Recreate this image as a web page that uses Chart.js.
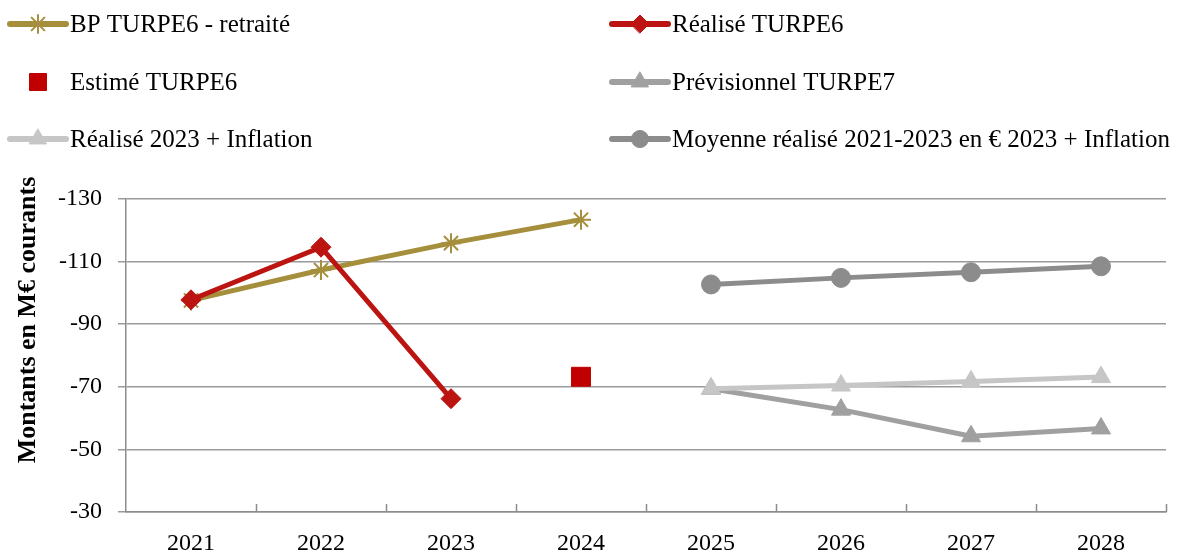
<!DOCTYPE html>
<html>
<head>
<meta charset="utf-8">
<script src="https://cdn.jsdelivr.net/npm/chart.js"></script>
<style>
  body { margin: 0; background: #fff; }
  canvas { display: block; }
</style>
</head>
<body>
<canvas id="turpeChart" width="1185" height="554"></canvas>
<script>
const years = ['2021', '2022', '2023', '2024', '2025', '2026', '2027', '2028'];
const bpTurpe6 = [-97.6, -107.3, -115.9, -123.4, null, null, null, null];
const realiseTurpe6 = [-97.8, -114.6, -66.2, null, null, null, null, null];
const estimeTurpe6 = [null, null, null, -73.2, null, null, null, null];
const previsionnelTurpe7 = [null, null, null, null, -69.4, -62.7, -54.2, -56.7];
const realise2023Inflation = [null, null, null, null, -69.4, -70.4, -71.7, -73.1];
const moyenneInflation = [null, null, null, null, -102.7, -104.8, -106.6, -108.5];

const FONT = "'Liberation Serif', 'DejaVu Serif', serif";
const Y_TITLE = 'Montants en M€ courants';

function lineSet(label, data, color, style, radius, order) {
    return {
        label: label,
        data: data,
        borderColor: color,
        backgroundColor: color,
        borderWidth: 5,
        pointStyle: style,
        pointRadius: radius,
        pointHoverRadius: radius,
        pointBackgroundColor: color,
        pointBorderColor: color,
        pointBorderWidth: style === 'star' ? 2 : 1,
        spanGaps: false,
        order: order
    };
}

const datasets = [
    lineSet('BP TURPE6 - retraité', bpTurpe6, '#A58F3C', 'star', 10, 2),
    lineSet('Réalisé TURPE6', realiseTurpe6, '#BB1411', 'rectRot', 10, 1),
    Object.assign(lineSet('Estimé TURPE6', estimeTurpe6, '#C00000', 'rect', 13.4, 1), { showLine: false }),
    lineSet('Prévisionnel TURPE7', previsionnelTurpe7, '#A0A0A0', 'triangle', 11, 4),
    lineSet('Réalisé 2023 + Inflation', realise2023Inflation, '#C6C6C6', 'triangle', 11, 3),
    lineSet('Moyenne réalisé 2021-2023 en € 2023 + Inflation', moyenneInflation, '#8C8C8C', 'circle', 9.5, 3)
];

// legend drawn in two columns, like the original
const legendPlugin = {
    id: 'twoColLegend',
    afterDraw(chart) {
        const ctx = chart.ctx;
        const cols = [10, 612];
        const rows = [24, 82, 139];
        chart.data.datasets.forEach((ds, i) => {
            const x = cols[i % 2];
            const y = rows[Math.floor(i / 2)];
            ctx.save();
            if (ds.showLine !== false) {
                ctx.strokeStyle = ds.borderColor;
                ctx.lineWidth = 6;
                ctx.lineCap = 'round';
                ctx.beginPath();
                ctx.moveTo(x, y);
                ctx.lineTo(x + 56, y);
                ctx.stroke();
            }
            ctx.fillStyle = ds.pointBackgroundColor;
            ctx.strokeStyle = ds.pointBorderColor;
            ctx.lineWidth = ds.pointBorderWidth;
            Chart.helpers.drawPoint(ctx, {
                pointStyle: ds.pointStyle,
                radius: ds.pointStyle === 'rect' ? 12 : ds.pointRadius * 0.9,
                rotation: 0,
                borderWidth: ds.pointBorderWidth
            }, x + 28, y);
            ctx.fillStyle = '#000';
            ctx.font = '25px ' + FONT;
            ctx.textBaseline = 'middle';
            ctx.textAlign = 'left';
            ctx.fillText(ds.label, x + 60, y + 1);
            ctx.restore();
        });
        // y axis title, centred a little above the plot middle as in the original
        ctx.save();
        ctx.translate(28, 320);
        ctx.rotate(-Math.PI / 2);
        ctx.fillStyle = '#000';
        ctx.font = 'bold 26px ' + FONT;
        ctx.textAlign = 'center';
        ctx.textBaseline = 'middle';
        ctx.fillText(Y_TITLE, 0, 0);
        ctx.restore();
    }
};

// small tick marks pointing up from the x axis, between categories
const innerTicks = {
    id: 'innerTicks',
    afterDraw(chart) {
        const xs = chart.scales.x;
        const ctx = chart.ctx;
        const half = (xs.getPixelForValue(1) - xs.getPixelForValue(0)) / 2;
        ctx.save();
        ctx.strokeStyle = '#8C8C8C';
        ctx.lineWidth = 1.5;
        ctx.beginPath();
        for (let i = 0; i < years.length; i++) {
            const px = Math.round(xs.getPixelForValue(i) + half) + 0.5;
            ctx.moveTo(px, xs.top);
            ctx.lineTo(px, xs.top - 8);
        }
        ctx.stroke();
        ctx.restore();
    }
};

new Chart(document.getElementById('turpeChart'), {
    type: 'line',
    data: { labels: years, datasets: datasets },
    plugins: [legendPlugin, innerTicks],
    options: {
        responsive: false,
        animation: false,
        layout: { padding: { top: 199, right: 19, left: 0, bottom: 0 } },
        plugins: { legend: { display: false }, tooltip: { enabled: false } },
        scales: {
            x: {
                offset: true,
                grid: { display: false, drawTicks: false },
                border: { display: true, color: '#8C8C8C', width: 1.5 },
                ticks: { color: '#000', font: { family: FONT, size: 24 }, padding: 17, maxRotation: 0 },
                afterFit(scale) { scale.height = 42; }
            },
            y: {
                reverse: true,
                min: -130,
                max: -30,
                ticks: { stepSize: 20, color: '#000', font: { family: FONT, size: 24 }, padding: 16 },
                grid: { color: '#9A9A9A', lineWidth: 1.5, tickLength: 8 },
                border: { display: true, color: '#8C8C8C', width: 1.5 },
                title: { display: false },
                afterFit(scale) { scale.width = 126; }
            }
        }
    }
});
</script>
</body>
</html>
